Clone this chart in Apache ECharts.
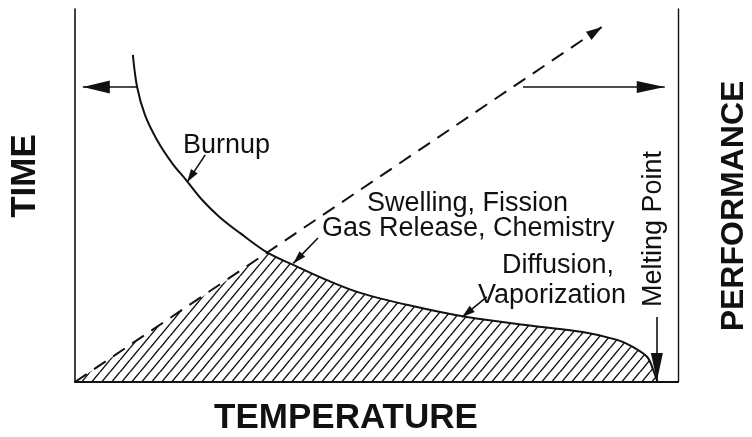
<!DOCTYPE html>
<html><head><meta charset="utf-8">
<script src="https://cdn.jsdelivr.net/npm/echarts@6/dist/echarts.min.js"></script>
<style>html,body{margin:0;padding:0;background:#fff}#c{width:752px;height:437px}</style>
</head><body><div id="c"></div>
<script>
// Burnup curve (temperature X vs time Y, arbitrary 0-100 units)
const burnupX = [9.6, 10.3, 11.6, 13.6, 16.1, 18.4, 21.1, 24.0, 27.4, 32.0, 36.2, 41.8, 47.3, 55.6, 65.0, 76.0, 84.2, 89.9, 92.5, 94.9, 95.9, 96.6];
const burnupY = [87.7, 79.1, 71.6, 64.9, 58.7, 54.2, 48.8, 44.2, 39.9, 34.6, 31.4, 27.3, 23.9, 20.5, 17.4, 15.0, 13.4, 11.3, 9.4, 6.7, 3.2, 0];
// Dashed performance line
const dashedLine = [[0, 0], [87.4, 95.2]];
// index where the burnup curve meets the dashed line
const crossIndex = 9;
// Arrows
const leftArrow = [[10.3, 79.1], [1.3, 79.1]];
const rightArrow = [[74.3, 79.1], [97.8, 79.1]];
const burnupPointer = [[21.6, 60.9], [18.6, 53.6]];
const gasPointer = [[40.3, 38.6], [36.2, 31.8]];
const vaporPointer = [[68.3, 22.8], [64.2, 17.4]];
const meltingArrow = [[96.5, 17.4], [96.5, 0.3]];
// Texts
const axisTitles = { x: 'TEMPERATURE', left: 'TIME', right: 'PERFORMANCE' };
const labelBurnup = 'Burnup';
const labelSwelling = ['Swelling, Fission', 'Gas Release, Chemistry'];
const labelDiffusion = ['Diffusion,', 'Vaporization'];
const labelMelting = 'Melting Point';

const FONT = "'Liberation Sans', Arial, Helvetica, sans-serif";
const INK = '#111';

function hatchCanvas() {
  const w = 10, h = 12;
  const c = document.createElement('canvas');
  c.width = w; c.height = h;
  const g = c.getContext('2d');
  g.strokeStyle = INK; g.lineWidth = 1.4;
  g.beginPath();
  for (const o of [-w, 0, w]) { g.moveTo(o, h); g.lineTo(o + w, 0); }
  g.stroke();
  return c;
}
const hatch = { image: hatchCanvas(), repeat: 'repeat' };

const burnupData = burnupX.map((x, i) => [x, burnupY[i]]);
const triangleData = [dashedLine[0], burnupData[crossIndex]];
const underCurveData = burnupData.slice(crossIndex);

function arrow(seg, headW, headH, extra) {
  return [
    Object.assign({ coord: seg[0], symbol: 'none' }, extra || {}),
    { coord: seg[1], symbol: 'triangle', symbolSize: [headW, headH], symbolOffset: [0, headH / 2] }
  ];
}

const chart = echarts.init(document.getElementById('c'), null, { renderer: 'canvas' });
chart.setOption({
  animation: false,
  backgroundColor: '#fff',
  grid: { left: 75, right: 74, top: 9, bottom: 55 },
  xAxis: {
    type: 'value', min: 0, max: 100,
    axisLine: { show: true, lineStyle: { color: INK, width: 2 } },
    axisTick: { show: false }, axisLabel: { show: false }, splitLine: { show: false }
  },
  yAxis: [
    { type: 'value', min: 0, max: 100, position: 'left',
      axisLine: { show: true, lineStyle: { color: INK, width: 1.6 } },
      axisTick: { show: false }, axisLabel: { show: false }, splitLine: { show: false } },
    { type: 'value', min: 0, max: 100, position: 'right',
      axisLine: { show: true, lineStyle: { color: INK, width: 1.4 } },
      axisTick: { show: false }, axisLabel: { show: false }, splitLine: { show: false } }
  ],
  series: [
    { type: 'line', data: triangleData, showSymbol: false, silent: true,
      lineStyle: { width: 0 }, areaStyle: { color: hatch, opacity: 1 }, z: 1 },
    { type: 'line', data: underCurveData, showSymbol: false, silent: true, smooth: 0.35,
      lineStyle: { width: 0 }, areaStyle: { color: hatch, opacity: 1 }, z: 1 },
    { type: 'line', data: burnupData, showSymbol: false, silent: true, smooth: 0.35,
      lineStyle: { color: INK, width: 2 }, z: 3 },
    { type: 'line', data: [], silent: true, z: 4,
      markLine: {
        silent: true, animation: false, symbol: ['none', 'triangle'],
        label: { show: false },
        lineStyle: { color: INK, width: 1.6, type: 'solid' },
        emphasis: { disabled: true },
        data: [
          arrow(dashedLine, 10, 16, { lineStyle: { type: [14, 9], width: 2, color: INK } }),
          arrow(leftArrow, 13, 27),
          arrow(rightArrow, 12, 28),
          arrow(burnupPointer, 8, 13),
          arrow(gasPointer, 8, 13),
          arrow(vaporPointer, 8, 13),
          arrow(meltingArrow, 12, 28)
        ]
      }
    }
  ],
  graphic: [
    { type: 'text', x: 346, y: 418, style: { text: axisTitles.x, font: `bold 35px ${FONT}`, fill: INK, align: 'center', verticalAlign: 'middle' } },
    { type: 'text', x: 25, y: 176, rotation: Math.PI / 2, style: { text: axisTitles.left, font: `bold 35px ${FONT}`, fill: INK, align: 'center', verticalAlign: 'middle' } },
    { type: 'text', x: 734, y: 206, rotation: Math.PI / 2, style: { text: axisTitles.right, font: `bold 32px ${FONT}`, fill: INK, align: 'center', verticalAlign: 'middle' } },
    { type: 'text', x: 183, y: 146, style: { text: labelBurnup, font: `27px ${FONT}`, fill: INK, align: 'left', verticalAlign: 'middle' } },
    { type: 'text', x: 367, y: 204, style: { text: labelSwelling[0], font: `27px ${FONT}`, fill: INK, align: 'left', verticalAlign: 'middle' } },
    { type: 'text', x: 322, y: 229, style: { text: labelSwelling[1], font: `27px ${FONT}`, fill: INK, align: 'left', verticalAlign: 'middle' } },
    { type: 'text', x: 502, y: 266, style: { text: labelDiffusion[0], font: `27px ${FONT}`, fill: INK, align: 'left', verticalAlign: 'middle' } },
    { type: 'text', x: 478, y: 296, style: { text: labelDiffusion[1], font: `27px ${FONT}`, fill: INK, align: 'left', verticalAlign: 'middle' } },
    { type: 'text', x: 654, y: 307, rotation: Math.PI / 2, style: { text: labelMelting, font: `27px ${FONT}`, fill: INK, align: 'left', verticalAlign: 'middle' } }
  ]
});
</script></body></html>
